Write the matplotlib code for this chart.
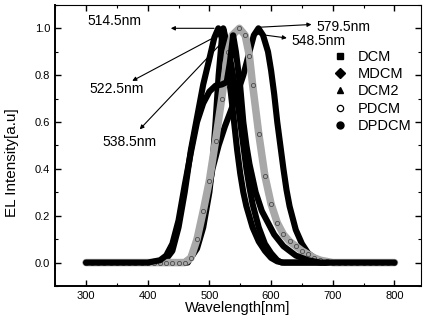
import matplotlib
matplotlib.use('Agg')
import matplotlib.pyplot as plt
from matplotlib.ticker import MultipleLocator

plt.rcParams['font.family'] = ['Liberation Sans', 'DejaVu Sans']

# peak at 514.5 nm
a_x = [300, 320, 340, 360, 380, 400, 420, 430, 440, 450, 460, 470, 480, 490, 500, 508, 514.5,
       520, 525, 530, 535, 540, 545, 550, 555, 560, 570, 580, 590, 600, 610, 620, 640, 660, 680, 700, 720, 740, 760, 780, 800]
a_y = [0.0, 0.0, 0.0, 0.0, 0.0, 0.0, 0.005, 0.015, 0.05, 0.15, 0.3, 0.48, 0.62, 0.76, 0.87, 0.96, 1.0,
       0.96, 0.9, 0.82, 0.72, 0.6, 0.48, 0.38, 0.3, 0.24, 0.15, 0.09, 0.05, 0.02, 0.005, 0.0, 0.0, 0.0, 0.0, 0.0, 0.0, 0.0, 0.0, 0.0, 0.0]

# peak at 522.5 nm
b_x = [300, 320, 340, 360, 380, 400, 420, 440, 460, 470, 480, 490, 500, 505, 510, 515, 520, 522.5,
       527, 535, 545, 550, 555, 560, 565, 570, 580, 590, 600, 610, 617, 640, 660, 680, 700, 720, 740, 760, 780, 800]
b_y = [0.0, 0.0, 0.0, 0.0, 0.0, 0.0, 0.0, 0.0, 0.0, 0.02, 0.06, 0.15, 0.3, 0.42, 0.6, 0.8, 0.95, 1.0,
       0.95, 0.85, 0.7, 0.6, 0.5, 0.4, 0.32, 0.25, 0.15, 0.08, 0.04, 0.01, 0.0, 0.0, 0.0, 0.0, 0.0, 0.0, 0.0, 0.0, 0.0, 0.0]

# peak at 538.5 nm, with shoulder
c_x = [300, 320, 340, 360, 380, 400, 420, 430, 440, 450, 460, 470, 480, 490, 500, 510, 520, 528, 533,
       538.5, 543, 550, 555, 560, 565, 575, 585, 595, 605, 620, 640, 660, 680, 700, 720, 740, 760, 780, 800]
c_y = [0.0, 0.0, 0.0, 0.0, 0.0, 0.0, 0.01, 0.03, 0.08, 0.18, 0.33, 0.47, 0.6, 0.68, 0.73, 0.755, 0.76, 0.77, 0.85,
       0.97, 0.9, 0.75, 0.6, 0.5, 0.42, 0.3, 0.22, 0.17, 0.12, 0.07, 0.03, 0.01, 0.0, 0.0, 0.0, 0.0, 0.0, 0.0, 0.0]

# peak at 548.5 nm (grey)
d_x = [300, 310, 320, 330, 340, 350, 360, 370, 380, 390, 400, 410, 420, 430, 440, 450, 460, 470, 480, 490,
       500, 510, 520, 530, 537, 548.5, 558, 565, 570, 580, 590, 600, 610, 620, 630, 640, 650, 660, 670, 680,
       690, 700, 710, 720, 730, 740, 750, 760, 770, 780, 790, 800]
d_y = [0.0, 0.0, 0.0, 0.0, 0.0, 0.0, 0.0, 0.0, 0.0, 0.0, 0.0, 0.0, 0.0, 0.0, 0.0, 0.0, 0.0, 0.02, 0.1, 0.22,
       0.35, 0.52, 0.7, 0.9, 0.97, 1.0, 0.97, 0.88, 0.76, 0.55, 0.37, 0.25, 0.17, 0.12, 0.09, 0.07, 0.05, 0.035, 0.02, 0.01,
       0.005, 0.0, 0.0, 0.0, 0.0, 0.0, 0.0, 0.0, 0.0, 0.0, 0.0, 0.0]

# peak at 579.5 nm
e_x = [300, 320, 340, 360, 380, 400, 420, 440, 465, 475, 485, 495, 505, 515, 525, 535, 545, 555, 565, 572,
       579.5, 587, 595, 600, 605, 610, 615, 620, 625, 630, 640, 650, 660, 670, 690, 720, 760, 800]
e_y = [0.0, 0.0, 0.0, 0.0, 0.0, 0.0, 0.0, 0.0, 0.0, 0.05, 0.13, 0.25, 0.4, 0.5, 0.58, 0.65, 0.72, 0.8, 0.9, 0.97,
       1.0, 0.97, 0.9, 0.82, 0.72, 0.6, 0.5, 0.4, 0.31, 0.24, 0.14, 0.08, 0.04, 0.02, 0.0, 0.0, 0.0, 0.0]

legend_names = ['DCM', 'MDCM', 'DCM2', 'PDCM', 'DPDCM']
legend_markers = ['s', 'D', '^', 'o', 'o']

# label text, peak point, arrow head, text position
peak_labels = ['514.5nm', '522.5nm', '538.5nm', '548.5nm', '579.5nm']
peak_from = [(512, 1.0), (514, 0.97), (522, 0.944), (570, 0.978), (577, 1.004)]
peak_to = [(433, 1.0), (371, 0.77), (384, 0.56), (630, 0.957), (670, 1.017)]
label_pos = [(346, 1.03), (306, 0.743), (327, 0.516), (633, 0.944), (674, 1.004)]

fig = plt.figure(figsize=(4.24, 3.25), dpi=100)
ax = fig.add_axes([0.13, 0.12, 0.863, 0.865])

lw = 4.4
kw = dict(solid_capstyle='round', solid_joinstyle='round')
ax.plot(a_x, a_y, color='black', lw=lw, **kw)
ax.plot(b_x, b_y, color='black', lw=lw, **kw)
ax.plot(e_x, e_y, color='black', lw=lw, **kw)
ax.plot(d_x, d_y, color='#a8a8a8', lw=lw + 1.0, **kw)
ax.plot(d_x, d_y, ls='none', marker='o', ms=3, mfc='none', mec='#4a4a4a', mew=0.6)
ax.plot(c_x, c_y, color='black', lw=lw, **kw)

for name, txt_xy in zip(peak_labels, label_pos):
    ax.text(txt_xy[0], txt_xy[1], name, fontsize=10,
            ha='center' if name == '514.5nm' else 'left', va='center')
for p0, p1 in zip(peak_from, peak_to):
    ax.annotate('', xy=p1, xytext=p0,
                arrowprops=dict(arrowstyle='-|>', color='black', lw=0.8, mutation_scale=6))

# legend
handles = []
for name, m in zip(legend_names, legend_markers):
    if name == 'PDCM':
        h, = ax.plot([], [], ls='none', marker=m, ms=4.5, mfc='white', mec='black', mew=0.9, label=name)
    else:
        h, = ax.plot([], [], ls='none', marker=m, ms=5, color='black', label=name)
    handles.append(h)
ax.legend(handles=handles, loc='upper right', bbox_to_anchor=(0.99, 0.86), frameon=False, fontsize=10.5,
          handletextpad=0.7, labelspacing=0.22, borderaxespad=0, handlelength=1.0)

ax.set_xlim(250, 843)
ax.set_ylim(-0.1, 1.1)
ax.xaxis.set_major_locator(MultipleLocator(100))
ax.xaxis.set_minor_locator(MultipleLocator(50))
ax.yaxis.set_major_locator(MultipleLocator(0.2))
ax.yaxis.set_minor_locator(MultipleLocator(0.1))
ax.yaxis.set_major_formatter(matplotlib.ticker.FormatStrFormatter('%.1f'))
ax.tick_params(which='both', direction='in', top=True, right=True, labelsize=8)
ax.tick_params(which='major', length=4, width=1)
ax.tick_params(which='minor', length=2, width=0.8)
for s in ['left', 'bottom']:
    ax.spines[s].set_linewidth(1.4)
for s in ['top', 'right']:
    ax.spines[s].set_linewidth(0.8)

ax.set_xlabel('Wavelength[nm]', fontsize=10.5, labelpad=0)
ax.set_ylabel('EL Intensity[a.u]', fontsize=11, labelpad=4)
ax.yaxis.set_label_coords(-0.1, 0.44)

plt.savefig('out.png', dpi=100)
